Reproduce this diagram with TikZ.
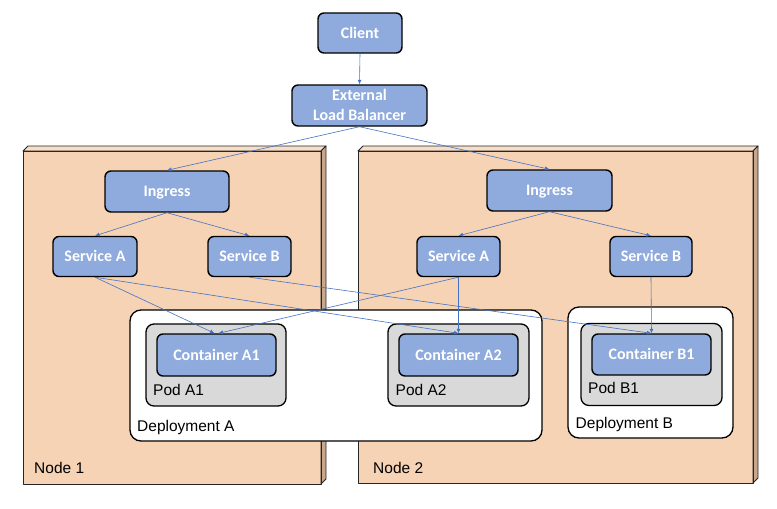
\documentclass[tikz,border=0pt]{standalone}
\usepackage{fontspec}
\setmainfont{Liberation Sans}
\newfontfamily\boxfont{Carlito}
\usetikzlibrary{arrows.meta}
\definecolor{boxblue}{HTML}{8FAADC}
\definecolor{peach}{HTML}{F5D3B4}
\definecolor{peachtop}{HTML}{F8DEC8}
\definecolor{peachside}{HTML}{C8A78C}
\definecolor{podgray}{HTML}{D9D9D9}
\definecolor{linkblue}{HTML}{4472C4}
\tikzset{
  comp/.style={draw=black, line width=1.4pt, fill=boxblue, rounded corners=6pt,
    text=white, font=\boxfont\bfseries\fontsize{16}{19.7}\selectfont,
    text height=10.3pt, text depth=0pt, inner sep=0pt, align=center},
  podbox/.style={draw=black, line width=1.3pt, fill=podgray, rounded corners=8pt, inner sep=0pt},
  deploybox/.style={draw=black, line width=1.3pt, fill=white, rounded corners=11pt, inner sep=0pt},
  cubeedge/.style={draw=black!85, line width=0.9pt, line join=round},
  lbl/.style={font=\fontsize{15.5}{18}\selectfont, inner sep=0pt, anchor=base west},
  link/.style={draw=linkblue, line width=0.6pt, -{Latex[length=4.5pt,width=4pt]}},
}
\begin{document}
\begin{tikzpicture}[x=1pt,y=-1pt]
\useasboundingbox (0,0) rectangle (777,509);
% Node 1 cube
\fill[peach] (23,151) rectangle (321,484);
\filldraw[fill=peachtop, cubeedge] (23,151) -- (28,146) -- (326,146) -- (321,151) -- cycle;
\filldraw[fill=peachside, cubeedge] (321,151) -- (326,146) -- (326,479) -- (321,484) -- cycle;
\draw[cubeedge] (23,151) rectangle (321,484);
% Node 2 cube
\fill[peach] (358,151) rectangle (753,483);
\filldraw[fill=peachtop, cubeedge] (358,151) -- (363,146) -- (758,146) -- (753,151) -- cycle;
\filldraw[fill=peachside, cubeedge] (753,151) -- (758,146) -- (758,478) -- (753,483) -- cycle;
\draw[cubeedge] (358,151) rectangle (753,483);
\node[lbl] (n1lbl) at (34,473.5) {Node 1};
\node[lbl] (n2lbl) at (373,473) {Node 2};

% Deployments
\node[deploybox, minimum width=412pt, minimum height=131pt] (depA) at (336,375.5) {};
\node[deploybox, minimum width=165pt, minimum height=131pt] (depB) at (650.5,372.5) {};
\node[lbl] (depAlbl) at (137,431) {Deployment A};
\node[lbl] (depBlbl) at (575.5,428.3) {Deployment B};

% Pods
\node[podbox, minimum width=140pt, minimum height=82pt] (podA1) at (216,365) {};
\node[podbox, minimum width=141pt, minimum height=82pt] (podA2) at (458.5,365) {};
\node[podbox, minimum width=141pt, minimum height=82pt] (podB1) at (651.5,364.5) {};
\node[lbl] (podA1lbl) at (153,395) {Pod A1};
\node[lbl] (podA2lbl) at (395.5,395) {Pod A2};
\node[lbl] (podB1lbl) at (588,393.5) {Pod B1};

% Containers
\node[comp, minimum width=119pt, minimum height=42pt] (cA1) at (216.5,355) {Container A1};
\node[comp, minimum width=119pt, minimum height=42pt] (cA2) at (458.5,355) {Container A2};
\node[comp, minimum width=119pt, minimum height=41pt] (cB1) at (651.5,354.5) {Container B1};

% Top components
\node[comp, minimum width=84pt, minimum height=40pt] (client) at (360,33) {Client};
\node[comp, minimum width=135pt, minimum height=41pt, text height=30pt] (lb) at (359.5,105.5) {External\\Load Balancer};
\node[comp, minimum width=124pt, minimum height=41pt] (ingL) at (167,191.5) {Ingress};
\node[comp, minimum width=125pt, minimum height=41pt] (ingR) at (549.5,190.5) {Ingress};
\node[comp, minimum width=84pt, minimum height=40pt] (svcAL) at (95,256.5) {Service A};
\node[comp, minimum width=83pt, minimum height=40pt] (svcBL) at (249.5,256.5) {Service B};
\node[comp, minimum width=83pt, minimum height=40pt] (svcAR) at (458.5,256.5) {Service A};
\node[comp, minimum width=82pt, minimum height=40pt] (svcBR) at (651,256.5) {Service B};

% Connectors
\draw[link] (client.south) -- (lb.north);
\draw[link] (lb.south) -- (ingL.north);
\draw[link] (lb.south) -- (ingR.north);
\draw[link] (ingL.south) -- (svcAL.north);
\draw[link] (ingL.south) -- (svcBL.north);
\draw[link] (ingR.south) -- (svcAR.north);
\draw[link] (ingR.south) -- (svcBR.north);
\draw[link] (svcAL.south) -- ([xshift=-2pt]cA1.north);
\draw[link] (svcAL.south) -- (cA2.north);
\draw[link] (svcBL.south) -- (cB1.north);
\draw[link] (svcAR.south) -- ([xshift=2pt]cA1.north);
\draw[link] (svcAR.south) -- (cA2.north);
\draw[link] (svcBR.south) -- (cB1.north);
\end{tikzpicture}
\end{document}
